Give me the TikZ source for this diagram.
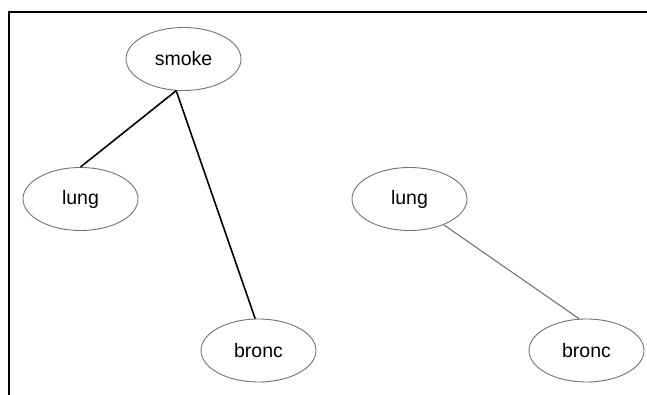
\documentclass[tikz,border=0pt]{standalone}
\usepackage{fontspec}
\setmainfont{Liberation Sans}
\usetikzlibrary{shapes.geometric}
\begin{document}
\begin{tikzpicture}[x=1pt,y=-1pt,
  var/.style={ellipse,draw=black!55,line width=0.9pt,minimum width=115pt,minimum height=63pt,inner sep=0pt,font=\fontsize{19.5}{22}\selectfont},
  strong/.style={black,line width=1.6pt},
  weak/.style={black!55,line width=1.1pt}]
\useasboundingbox (0,0) rectangle (647,395);
\coordinate (tl) at (9,12);
\coordinate (tr) at (647,12);
\coordinate (bl) at (9,395);
\draw[line width=1.6pt] (tr) -- (tl) -- (bl);
\node[var] (smoke) at (183.5,59) {smoke};
\node[var] (lung1) at (80.5,199) {lung};
\node[var] (bronc1) at (258.5,350.5) {bronc};
\node[var] (lung2) at (409.5,199) {lung};
\node[var] (bronc2) at (586.5,350.5) {bronc};
\draw[strong] (smoke.257) -- (lung1.north);
\draw[strong] (smoke.257) -- (bronc1.96);
\draw[weak] (lung2.-37) -- (bronc2.103);
\end{tikzpicture}
\end{document}
